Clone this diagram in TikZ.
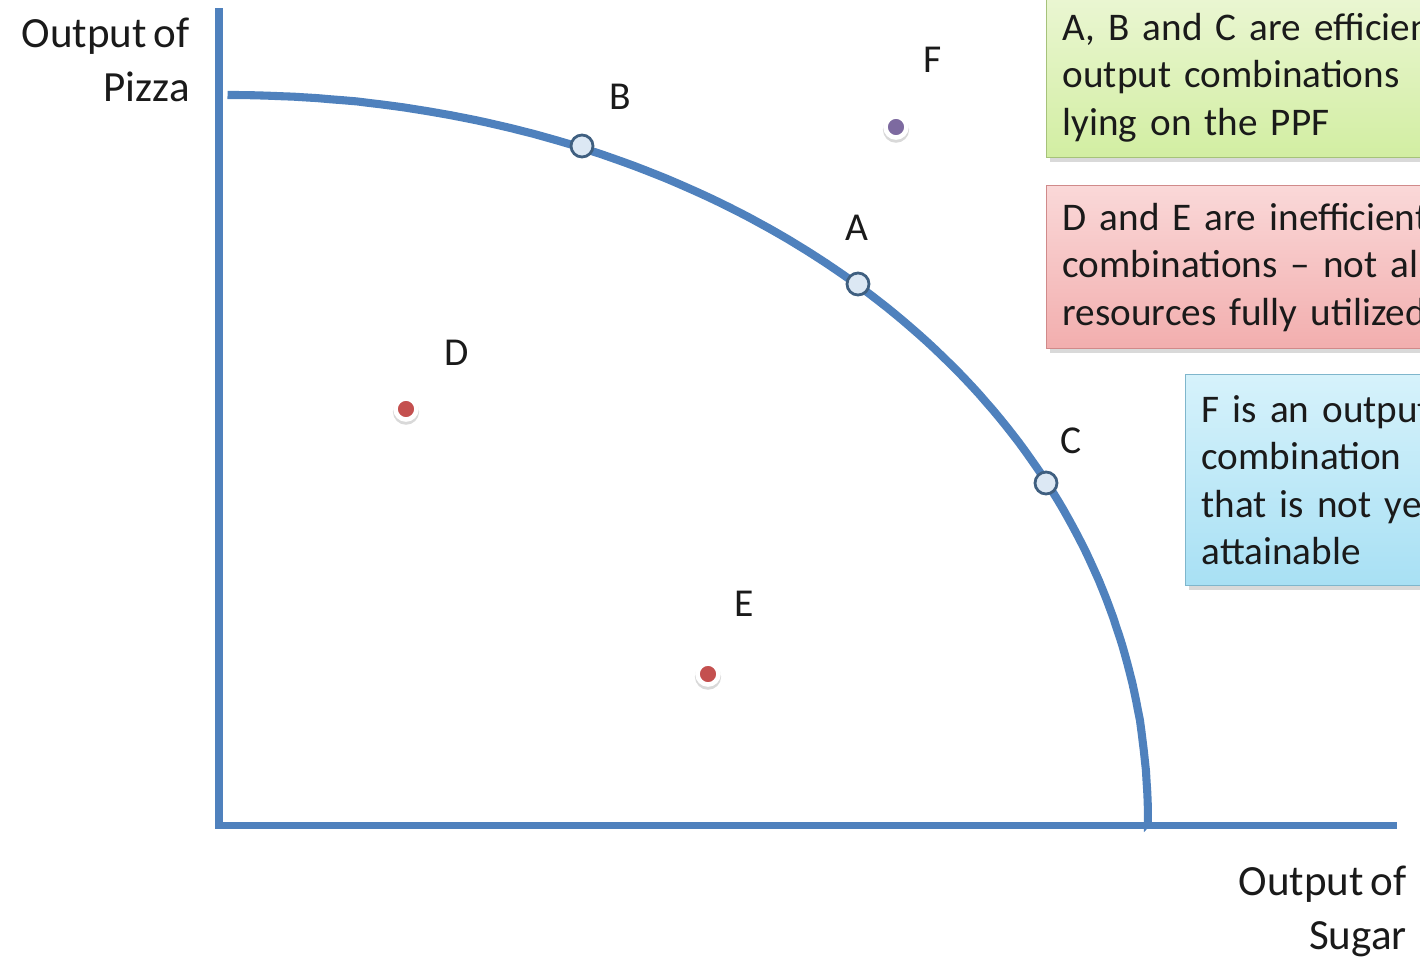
\documentclass[tikz,border=0pt]{standalone}
\usepackage{fontspec}
\setmainfont{Carlito}[WordSpace=0.7]
\usetikzlibrary{positioning,shadows,calc}

\definecolor{axisblue}{HTML}{4F81BD}
\definecolor{ringblue}{HTML}{3F5F80}
\definecolor{ringfill}{HTML}{DCE8F4}
\definecolor{dotred}{HTML}{C4504F}
\definecolor{dotpurple}{HTML}{7D6AA0}
\definecolor{txtgray}{HTML}{1A1A1A}
\definecolor{greentop}{HTML}{EAF6D2}
\definecolor{greenbot}{HTML}{D2EEA2}
\definecolor{greenline}{HTML}{A6C27A}
\definecolor{redtop}{HTML}{FAD8D8}
\definecolor{redbot}{HTML}{F2AEAE}
\definecolor{redline}{HTML}{D08A8A}
\definecolor{bluetop}{HTML}{D6F2FB}
\definecolor{bluebot}{HTML}{A8E0F4}
\definecolor{blueline}{HTML}{7FB6CC}

\begin{document}
\begin{tikzpicture}[x=0.02cm, y=-0.02cm,
    axis/.style={draw=axisblue, line width=4pt},
    ppf/.style={draw=axisblue, line width=4.6pt},
    effpt/.style={circle, draw=ringblue, fill=ringfill, line width=1.6pt, minimum size=0.44cm, inner sep=0pt},
    offpt/.style={circle, draw=white, line width=2.6pt, minimum size=0.42cm, inner sep=0pt,
        drop shadow={opacity=0.3, shadow scale=1.25, shadow xshift=0pt, shadow yshift=-1.2pt}},
    ptlabel/.style={font=\fontsize{22.5}{26}\selectfont, text=txtgray, inner sep=0pt},
    axlabel/.style={font=\fontsize{24.5}{30.5}\selectfont, text=txtgray, align=right, inner sep=0pt, anchor=north east},
    notebox/.style={anchor=north west, align=left, font=\fontsize{22.3}{27}\selectfont, text=txtgray,
        text width=9cm, inner xsep=0.32cm, line width=0.8pt,
        drop shadow={opacity=0.3, shadow xshift=2pt, shadow yshift=-2.5pt}}
]
    \useasboundingbox (0,0) rectangle (1420,958);
    \begin{scope}
    \clip (0,0) rectangle (1420,958);

    % Axes
    \coordinate (ytop) at (219,8);
    \coordinate (origin) at (219,825);
    \coordinate (xend) at (1397,825);
    \draw[axis] (ytop) -- (origin) -- (xend);

    % Production possibility frontier
    \draw[ppf] (228,95) -- plot[domain=89.8:0.2, samples=120]
        ({224+924*cos(\x)^0.9756}, {825-730*sin(\x)^0.9756}) -- (1148,822);

    % Efficient combinations on the curve
    \node[effpt] (B) at (582,146) {};
    \node[effpt] (A) at (858,284) {};
    \node[effpt] (C) at (1046,483) {};

    % Inefficient and unattainable combinations
    \node[offpt, fill=dotred] (D) at (406,409) {};
    \node[offpt, fill=dotred] (E) at (708,674) {};
    \node[offpt, fill=dotpurple] (F) at (896,127) {};

    % Point labels
    \node[ptlabel] (labB) at (620,97) {B};
    \node[ptlabel] (labA) at (857,228) {A};
    \node[ptlabel] (labC) at (1071,441) {C};
    \node[ptlabel] (labD) at (457,353) {D};
    \node[ptlabel] (labE) at (744,604) {E};
    \node[ptlabel] (labF) at (933,60) {F};

    % Axis titles
    \node[axlabel] (ylab) at (190,18) {Output of\\Pizza};
    \node[axlabel] (xlab) at (1407,866) {Output of\\Sugar};

    % Note boxes on the right
    \node[notebox, draw=greenline, top color=greentop, bottom color=greenbot,
        minimum height=3.2cm] (effnote) at (1046,-3) {%
        A, B and C are efficient\\output combinations\\lying on the PPF};
    \node[notebox, draw=redline, top color=redtop, bottom color=redbot,
        minimum height=3.26cm] (ineffnote) at (1046,185) {%
        D and E are inefficient\\combinations -- not all\\resources fully utilized};
    \node[notebox, draw=blueline, top color=bluetop, bottom color=bluebot,
        minimum height=4.22cm] (unatnote) at (1185,374) {%
        F is an output\\combination\\that is not yet\\attainable};
    \end{scope}

\end{tikzpicture}
\end{document}
